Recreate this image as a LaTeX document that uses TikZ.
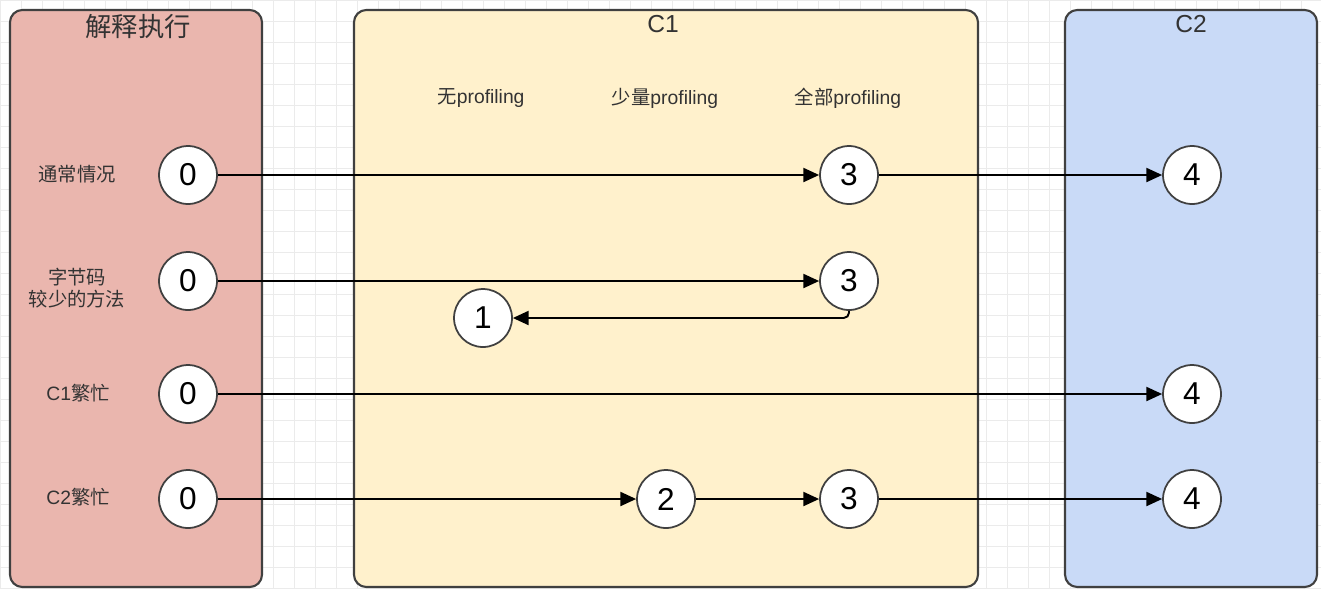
\documentclass[tikz,border=0pt]{standalone}
\usepackage{fontspec}
\setmainfont{Liberation Sans}
\newfontfamily\cjk{Noto Sans CJK SC}
\usetikzlibrary{arrows.meta}
\tikzset{>={Triangle[length=9pt,width=8pt]}}
\colorlet{penColor}{black!75}
\definecolor{interpFill}{RGB}{234,182,174}
\definecolor{cOneFill}{RGB}{255,241,204}
\definecolor{cTwoFill}{RGB}{201,218,247}
\tikzset{
  lane/.style={draw=penColor, line width=1.2pt, rounded corners=7pt},
  level/.style={circle, draw=penColor, line width=1pt, fill=white, minimum size=33pt, inner sep=0pt, font=\fontsize{18}{18}\selectfont},
  rowlabel/.style={font=\cjk\fontsize{11}{12.5}\selectfont, align=center, text=black!80},
  collabel/.style={font=\fontsize{11}{12}\selectfont, text=black!80},
  title/.style={font=\fontsize{14}{14}\selectfont, text=black!80},
  flow/.style={->, line width=1.1pt}
}

\begin{document}
\begin{tikzpicture}[x=0.02cm, y=-0.02cm]
\useasboundingbox (0,0) rectangle (1321,589);
\fill[white] (0,0) rectangle (1321,589);
\draw[black!8, step=0.42cm] (0,0) grid (1321,589);
% three lanes
\draw[lane, fill=interpFill] (10,10) rectangle (262,587);
\draw[lane, fill=cOneFill] (354,10) rectangle (978,587);
\draw[lane, fill=cTwoFill] (1065,10) rectangle (1317,587);
\node[title, font=\cjk\fontsize{15}{15}\selectfont] (tInterp) at (138,27) {解释执行};
\node[title] (tOne) at (663,24) {C1};
\node[title] (tTwo) at (1191,24) {C2};
\node[collabel] (noProf) at (481,98) {{\cjk 无}profiling};
\node[collabel] (someProf) at (665,98) {{\cjk 少量}profiling};
\node[collabel] (allProf) at (848,98) {{\cjk 全部}profiling};
% rows
\node[rowlabel] (rA) at (77,174) {通常情况};
\node[rowlabel] (rB) at (77,288) {字节码\\较少的方法};
\node[rowlabel] (rC) at (78,393) {{\rmfamily C1}繁忙};
\node[rowlabel] (rD) at (78,497) {{\rmfamily C2}繁忙};
\node[level] (a0) at (188,175) {0};
\node[level] (a3) at (849,175) {3};
\node[level] (a4) at (1192,175) {4};
\node[level] (b0) at (188,281) {0};
\node[level] (b3) at (849,281) {3};
\node[level] (b1) at (483,318) {1};
\node[level] (c0) at (188,394) {0};
\node[level] (c4) at (1192,394) {4};
\node[level] (d0) at (188,499) {0};
\node[level] (d2) at (666,499) {2};
\node[level] (d3) at (849,499) {3};
\node[level] (d4) at (1192,499) {4};
% connectors
\draw[flow] (a0) -- (a3);
\draw[flow] (a3) -- (a4);
\draw[flow] (b0) -- (b3);
\draw[flow, rounded corners=3pt] (b3.south) |- (b1);
\draw[flow] (c0) -- (c4);
\draw[flow] (d0) -- (d2);
\draw[flow] (d2) -- (d3);
\draw[flow] (d3) -- (d4);
\end{tikzpicture}
\end{document}
